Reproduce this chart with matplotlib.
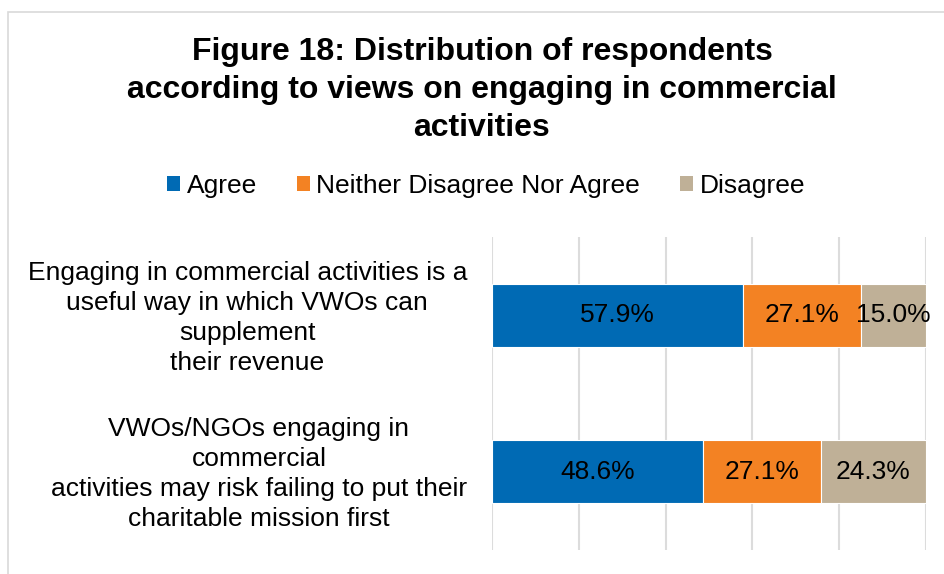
import matplotlib.pyplot as plt
import matplotlib.transforms as mtransforms
from matplotlib.patches import Rectangle, Patch

plt.rcParams["font.family"] = ["Liberation Sans", "DejaVu Sans"]

aussagen = [
    "Engaging in commercial activities is a\nuseful way in which VWOs can\nsupplement\ntheir revenue",
    "VWOs/NGOs engaging in\ncommercial\nactivities may risk failing to put their\ncharitable mission first",
]
agree = [57.9, 48.6]
neither = [27.1, 27.1]
disagree = [15.0, 24.3]

serien = ["Agree", "Neither Disagree Nor Agree", "Disagree"]
farben = ["#006AB4", "#F38223", "#BFB097"]

fig = plt.figure(figsize=(9.44, 5.74), dpi=100)
W, H = 944, 574

# heller Rahmen
fig.patches.append(Rectangle((8 / W, -0.1), 1.1, 1 - 12 / H + 0.1,
                             transform=fig.transFigure, fill=False,
                             edgecolor="#D9D9D9", linewidth=1.2))

ax = fig.add_axes([492 / W, 1 - 550 / H, 434 / W, 313 / H])

y = list(range(len(aussagen)))
links = [0] * len(aussagen)
for werte, farbe in zip([agree, neither, disagree], farben):
    balken = ax.barh(y, werte, left=links, height=0.4, color=farbe,
                     edgecolor="white", linewidth=0.8, zorder=3)
    ax.bar_label(balken, labels=[f"{w:.1f}%" for w in werte],
                 label_type="center", fontsize=19, color="black")
    links = [l + w for l, w in zip(links, werte)]

ax.set_xlim(0, 100)
ax.set_ylim(1.5, -0.5)
ax.set_xticks([0, 20, 40, 60, 80, 100])
ax.xaxis.grid(True, color="#DCDCDC", linewidth=1.5, zorder=0)
ax.tick_params(axis="x", length=0, labelbottom=False)
ax.set_yticks(y)
ax.set_yticklabels(aussagen, fontsize=19, multialignment="center",
                   linespacing=1.31)
ax.tick_params(axis="y", length=0, pad=18)
# Beschriftungen etwas nach oben schieben
hoch = mtransforms.ScaledTranslation(0, 3 / 100, fig.dpi_scale_trans)
for lbl in ax.get_yticklabels():
    lbl.set_transform(lbl.get_transform() + hoch)
for s in ax.spines.values():
    s.set_visible(False)

###titel--------------

fig.text(482 / W, 1 - 90 / H,
         "Figure 18: Distribution of respondents\naccording to views on engaging in commercial\nactivities",
         ha="center", va="center", fontsize=23, fontweight="bold", linespacing=1.34)

handles = [Patch(facecolor=f, edgecolor="none") for f in farben]
fig.legend(handles, serien, loc="center", bbox_to_anchor=(486 / W, 1 - 186 / H),
           ncol=3, frameon=False, fontsize=19, handlelength=0.5, handleheight=0.5,
           handletextpad=0.25, columnspacing=1.5)

plt.savefig("out.png", dpi=100)
